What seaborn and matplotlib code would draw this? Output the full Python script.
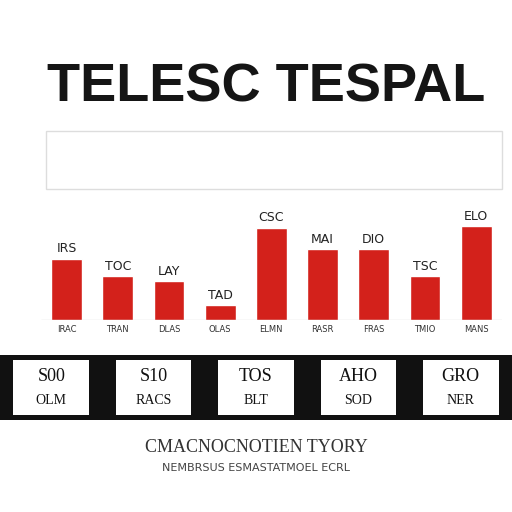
import matplotlib
matplotlib.use("Agg")
import matplotlib.pyplot as plt
import seaborn as sns
import pandas as pd
from matplotlib.patches import Rectangle

sns.set_style("white")

# bar data
bar_labels = ["IRS", "TOC", "LAY", "TAD", "CSC", "MAI", "DIO", "TSC", "ELO"]
bar_values = [57, 41, 36, 14, 86, 66, 66, 41, 87]
tick_labels = ["IRAC", "TRAN", "DLAS", "OLAS", "ELMN", "RASR", "FRAS", "TMIO", "MANS"]
band_top = ["S00", "S10", "TOS", "AHO", "GRO"]
band_bottom = ["OLM", "RACS", "BLT", "SOD", "NER"]

df = pd.DataFrame({"cat": tick_labels, "value": bar_values})

fig = plt.figure(figsize=(5.12, 5.12), dpi=100)
fig.patch.set_facecolor("white")

fig.text(0.52, 0.83, "TELESC TESPAL", ha="center", va="center",
         fontsize=39, family="Liberation Sans", fontweight="bold", color="#151515")
fig.add_artist(Rectangle((0.09, 0.63), 0.89, 0.115, transform=fig.transFigure,
                         fill=False, edgecolor="#dddddd", lw=1))

ax = fig.add_axes([0.08, 0.375, 0.9, 0.21])
sns.barplot(data=df, x="cat", y="value", color="#d3211b", saturation=1,
            width=0.6, ax=ax)
ax.set_ylim(0, 100)
ax.set_xlim(-0.5, len(bar_values) - 0.5)
for i, (v, lab) in enumerate(zip(bar_values, bar_labels)):
    ax.text(i, v + 3, lab, ha="center", va="bottom", fontsize=9, color="#222222")
ax.set_xlabel("")
ax.set_ylabel("")
ax.set_yticks([])
ax.tick_params(axis="x", labelsize=6, length=0, colors="#333333")
sns.despine(ax=ax, left=True, bottom=True)
ax.axhline(0, color="#888888", lw=0.8)

# black band with labels
band = fig.add_axes([0.0, 0.18, 1.0, 0.127])
band.set_facecolor("#111111")
band.set_xlim(0, 5)
band.set_ylim(0, 1)
band.set_xticks([])
band.set_yticks([])
for s in band.spines.values():
    s.set_visible(False)
for i, (t, b) in enumerate(zip(band_top, band_bottom)):
    band.add_patch(Rectangle((i * 1.0 + 0.13, 0.08), 0.74, 0.84,
                             facecolor="white", edgecolor="none"))
    band.text(i + 0.5, 0.66, t, ha="center", va="center", fontsize=13,
              family="Liberation Serif", color="#111111")
    band.text(i + 0.5, 0.3, b, ha="center", va="center", fontsize=10,
              family="Liberation Serif", color="#111111")

fig.text(0.5, 0.125, "CMACNOCNOTIEN TYORY", ha="center", va="center",
         fontsize=13, family="Liberation Serif", color="#333333")
fig.text(0.5, 0.085, "NEMBRSUS ESMASTATMOEL ECRL", ha="center", va="center",
         fontsize=8, color="#444444")

fig.savefig("out.png", dpi=100)
